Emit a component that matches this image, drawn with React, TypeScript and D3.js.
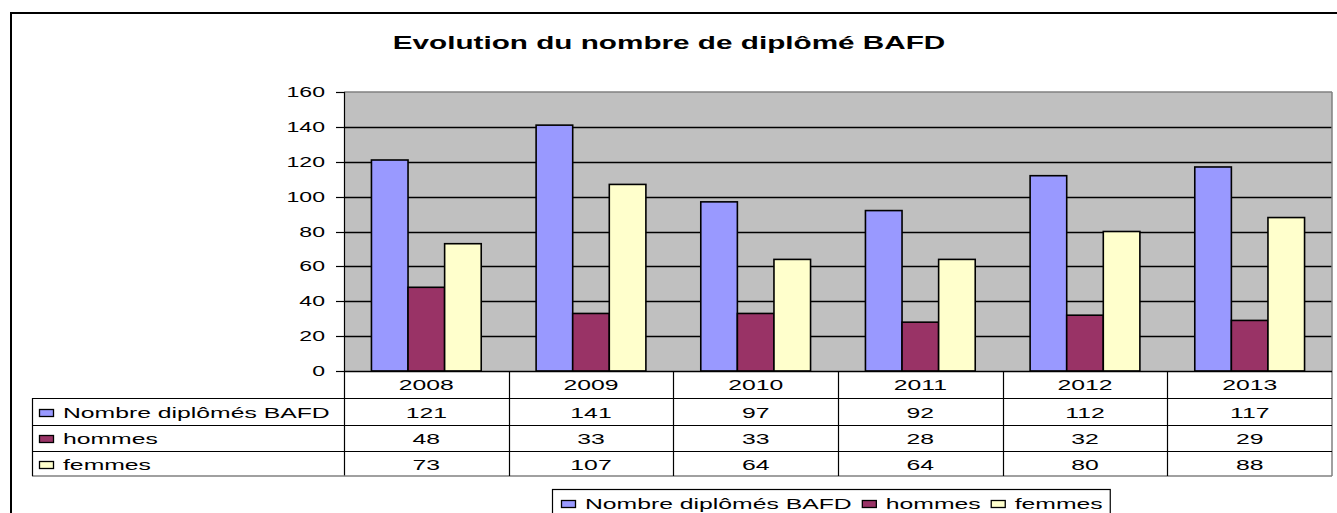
import React from "react";
import * as d3 from "d3";

const categories = ["2008", "2009", "2010", "2011", "2012", "2013"];
const seriesNames = ["Nombre diplômés BAFD", "hommes", "femmes"];
const totalValues = [121, 141, 97, 92, 112, 117];
const hommesValues = [48, 33, 33, 28, 32, 29];
const femmesValues = [73, 107, 64, 64, 80, 88];
const yTicks = [0, 20, 40, 60, 80, 100, 120, 140, 160];
const title = "Evolution du nombre de diplômé BAFD";

const seriesValues = [totalValues, hommesValues, femmesValues];
const colors = ["#9999FF", "#993366", "#FFFFCC"];

const W = 1337;
const H = 513;
const S = 1.65; // horizontal stretch of the text
const FONT = "'Liberation Sans', Arial, sans-serif";

const plot = { left: 344, right: 1332, top: 92, bottom: 371 };
const rowY = [371, 398, 425, 451, 476];
const tableLeft = 32;

function measure(text: string, size: number, bold = false): number {
  const c = document.createElement("canvas");
  const ctx = c.getContext("2d");
  if (!ctx) return text.length * size * 0.55;
  ctx.font = `${bold ? "bold " : ""}${size}px ${FONT}`;
  return ctx.measureText(text).width;
}

const px = (v: number) => Math.round(v) + 0.5;

function SText(props: {
  x: number;
  y: number;
  size: number;
  anchor?: "start" | "middle" | "end";
  bold?: boolean;
  children: string;
}) {
  const { x, y, size, anchor = "start", bold = false, children } = props;
  return (
    <text
      transform={`translate(${x},${y}) scale(${S},1)`}
      textAnchor={anchor}
      fontSize={size}
      fontWeight={bold ? "bold" : "normal"}
      fontFamily={FONT}
      fill="#000"
    >
      {children}
    </text>
  );
}

export default function App() {
  const y = d3.scaleLinear().domain([0, 160]).range([plot.bottom, plot.top]);
  const x = d3
    .scaleBand<string>()
    .domain(categories)
    .range([plot.left, plot.right])
    .padding(0);
  const inner = d3
    .scaleBand<string>()
    .domain(seriesNames)
    .range([0, x.bandwidth()])
    .paddingInner(0)
    .paddingOuter(0.75);

  // bottom legend layout
  const legendFont = 15;
  const legendItems: { name: string; color: string; kx: number; tx: number }[] = [];
  let cursor = 561;
  seriesNames.forEach((name, i) => {
    legendItems.push({ name, color: colors[i], kx: cursor, tx: cursor + 24 });
    cursor += 24 + measure(name, legendFont) * S + 10;
  });
  const legendRight = cursor - 10 + 7;

  return (
    <svg
      width={W}
      height={H}
      style={{ position: "absolute", left: 0, top: 0, background: "#fff" }}
    >
      {/* outer frame */}
      <rect x={11} y={13} width={1500} height={700} fill="#fff" stroke="#000" strokeWidth={2} />

      {/* title */}
      <SText x={669} y={49} size={18} anchor="middle" bold>
        {title}
      </SText>

      {/* plot background */}
      <rect
        x={plot.left}
        y={plot.top}
        width={plot.right - plot.left}
        height={plot.bottom - plot.top}
        fill="#C0C0C0"
      />

      {/* gridlines */}
      {yTicks
        .filter((t) => t > 0 && t < 160)
        .map((t) => (
          <line key={`g${t}`} x1={plot.left} x2={plot.right} y1={px(y(t))} y2={px(y(t))} stroke="#000" strokeWidth={1.3} />
        ))}
      {/* plot border top/right */}
      <line x1={plot.left} x2={plot.right} y1={plot.top} y2={plot.top} stroke="#808080" strokeWidth={1.5} />
      <line x1={plot.right} x2={plot.right} y1={plot.top} y2={rowY[4]} stroke="#808080" strokeWidth={1.5} />

      {/* bars */}
      {categories.map((c, ci) =>
        seriesNames.map((s, si) => {
          const v = seriesValues[si][ci];
          const bx = (x(c) as number) + (inner(s) as number);
          return (
            <rect
              key={`${c}-${s}`}
              x={bx}
              y={y(v)}
              width={inner.bandwidth()}
              height={y(0) - y(v)}
              fill={colors[si]}
              stroke="#000"
              strokeWidth={1.6}
            />
          );
        })
      )}

      {/* y axis */}
      <line x1={px(plot.left)} x2={px(plot.left)} y1={plot.top} y2={rowY[4]} stroke="#000" strokeWidth={1.2} />
      {yTicks.map((t) => (
        <g key={`t${t}`}>
          <line x1={plot.left - 8} x2={plot.left} y1={px(y(t))} y2={px(y(t))} stroke="#000" strokeWidth={1.2} />
          <SText x={325} y={y(t) + 5} size={14} anchor="end">
            {String(t)}
          </SText>
        </g>
      ))}

      {/* data table */}
      <line x1={plot.left} x2={plot.right} y1={px(rowY[0])} y2={px(rowY[0])} stroke="#000" strokeWidth={1.4} />
      {[1, 2, 3].map((r) => (
        <line key={`r${r}`} x1={tableLeft} x2={plot.right} y1={px(rowY[r])} y2={px(rowY[r])} stroke="#000" strokeWidth={1.2} />
      ))}
      <line x1={tableLeft} x2={plot.right} y1={rowY[4]} y2={rowY[4]} stroke="#808080" strokeWidth={1.5} />
      <line x1={px(tableLeft)} x2={px(tableLeft)} y1={rowY[1]} y2={rowY[4]} stroke="#000" strokeWidth={1.2} />
      {categories.slice(1).map((c) => (
        <line key={`v${c}`} x1={px(x(c) as number)} x2={px(x(c) as number)} y1={rowY[0]} y2={rowY[4]} stroke="#000" strokeWidth={1.2} />
      ))}
      {categories.map((c) => (
        <SText key={`h${c}`} x={(x(c) as number) + x.bandwidth() / 2} y={rowY[0] + 19} size={15} anchor="middle">
          {c}
        </SText>
      ))}
      {seriesNames.map((s, si) => (
        <g key={`row${s}`}>
          <rect
            x={39.5}
            y={Math.round((rowY[si + 1] + rowY[si + 2]) / 2 - 3) + 0.5}
            width={14}
            height={7}
            fill={colors[si]}
            stroke="#000"
            strokeWidth={1.3}
          />
          <SText x={63} y={(rowY[si + 1] + rowY[si + 2]) / 2 + 6} size={15}>
            {s}
          </SText>
          {categories.map((c, ci) => (
            <SText
              key={`c${c}`}
              x={(x(c) as number) + x.bandwidth() / 2}
              y={(rowY[si + 1] + rowY[si + 2]) / 2 + 6}
              size={15}
              anchor="middle"
            >
              {String(seriesValues[si][ci])}
            </SText>
          ))}
        </g>
      ))}

      {/* bottom legend */}
      <rect x={552.5} y={489.5} width={legendRight - 552} height={60} fill="#fff" stroke="#000" strokeWidth={1.2} />
      {legendItems.map((it) => (
        <g key={`l${it.name}`}>
          <rect x={it.kx + 0.5} y={500.5} width={14} height={7} fill={it.color} stroke="#000" strokeWidth={1.3} />
          <SText x={it.tx} y={509} size={legendFont}>
            {it.name}
          </SText>
        </g>
      ))}
    </svg>
  );
}
